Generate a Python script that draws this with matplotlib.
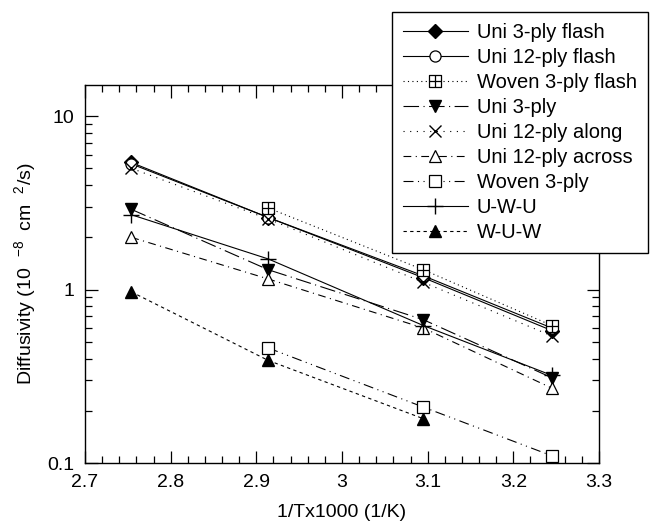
import numpy as np
import matplotlib
matplotlib.use('Agg')
import matplotlib.pyplot as plt
from matplotlib.path import Path
from matplotlib.ticker import FuncFormatter, MultipleLocator, LogLocator

plt.rcParams['font.family'] = ['Liberation Sans', 'DejaVu Sans']
plt.rcParams['mathtext.fontset'] = 'custom'
plt.rcParams['mathtext.rm'] = 'Liberation Sans'
plt.rcParams['mathtext.it'] = 'Liberation Sans'

# 1/T x 1000 at 90, 70, 50, 35 C
x4 = [2.754, 2.914, 3.095, 3.245]
x3 = [2.914, 3.095, 3.245]
x3w = [2.754, 2.914, 3.095]

uni3_flash = [5.4, 2.6, 1.17, 0.58]
uni12_flash = [5.3, 2.6, 1.2, 0.6]
woven3_flash = [2.95, 1.3, 0.62]
uni3 = [2.9, 1.3, 0.67, 0.31]
uni12_along = [5.0, 2.55, 1.1, 0.54]
uni12_across = [2.0, 1.15, 0.6, 0.27]
woven3 = [0.46, 0.21, 0.11]
uwu = [2.7, 1.5, 0.62, 0.32]
wuw = [0.97, 0.39, 0.18]

# square with a cross inside
grid_sq = Path([(-1, -1), (1, -1), (1, 1), (-1, 1), (-1, -1),
                (0, -1), (0, 1), (-1, 0), (1, 0)],
               [Path.MOVETO, Path.LINETO, Path.LINETO, Path.LINETO, Path.CLOSEPOLY,
                Path.MOVETO, Path.LINETO, Path.MOVETO, Path.LINETO])

fig = plt.figure(figsize=(6.53, 5.26), dpi=100)
ax = fig.add_axes([85/653, 1-463/526, (599-85)/653, (463-85)/526])

lw = 0.8
ax.plot(x4, uni3_flash, color='k', lw=lw, ls='-', marker='D', ms=7, mfc='k', label='Uni 3-ply flash')
ax.plot(x4, uni12_flash, color='k', lw=lw, ls='-', marker='o', ms=8, mfc='white', mew=0.9, label='Uni 12-ply flash')
ax.plot(x3, woven3_flash, color='k', lw=lw, ls=(0, (1, 3)), marker=grid_sq, ms=9, mfc='white', mew=0.9, label='Woven 3-ply flash')
ax.plot(x4, uni3, color='k', lw=lw, ls=(0, (14, 4, 1, 4)), marker='v', ms=9, mfc='k', label='Uni 3-ply')
ax.plot(x4, uni12_along, color='k', lw=lw, ls=(0, (1, 5)), marker='x', ms=9, mew=1.0, label='Uni 12-ply along')
ax.plot(x4, uni12_across, color='k', lw=lw, ls=(0, (7, 4, 1, 4)), marker='^', ms=9, mfc='white', mew=0.9, label='Uni 12-ply across')
ax.plot(x3, woven3, color='k', lw=lw, ls=(0, (9, 4, 1, 4, 1, 4)), marker='s', ms=9, mfc='white', mew=0.9, label='Woven 3-ply')
ax.plot(x4, uwu, color='k', lw=lw, ls='-', marker='+', ms=11, mew=1.0, label='U-W-U')
ax.plot(x3w, wuw, color='k', lw=lw, ls=(0, (3, 3)), marker='^', ms=9, mfc='k', label='W-U-W')

ax.set_yscale('log')
ax.set_xlim(2.7, 3.3)
ax.set_ylim(0.1, 15.1)
ax.xaxis.set_major_locator(MultipleLocator(0.1))
ax.xaxis.set_minor_locator(MultipleLocator(0.02))
ax.xaxis.set_major_formatter(FuncFormatter(lambda v, p: '%g' % round(v, 2)))
ax.yaxis.set_major_locator(LogLocator(base=10))
ax.yaxis.set_minor_locator(LogLocator(base=10, subs=np.arange(2, 10)))
ax.yaxis.set_major_formatter(FuncFormatter(lambda v, p: '%g' % v))
ax.yaxis.set_minor_formatter(FuncFormatter(lambda v, p: ''))
ax.tick_params(which='both', direction='in', top=True, right=True, labelsize=14, colors='k', pad=8)
ax.tick_params(which='major', length=9, width=0.9)
ax.tick_params(which='minor', length=5, width=0.9)
for s in ax.spines.values():
    s.set_linewidth(1.0)

ax.set_xlabel('1/Tx1000 (1/K)', fontsize=14, labelpad=9)
ax.set_ylabel('Diffusivity (10  $^{-8}$  cm  $^{2}$/s)', fontsize=14, labelpad=6)

leg = fig.legend(loc='upper left', bbox_to_anchor=(392/653, 1-11.5/526), fontsize=14.5,
                 frameon=True, fancybox=False, edgecolor='k', framealpha=1,
                 handlelength=3.2, labelspacing=0.3, borderpad=0.55, handletextpad=0.45,
                 borderaxespad=0)
leg.get_frame().set_linewidth(1.0)

fig.savefig('out.png', dpi=100)
